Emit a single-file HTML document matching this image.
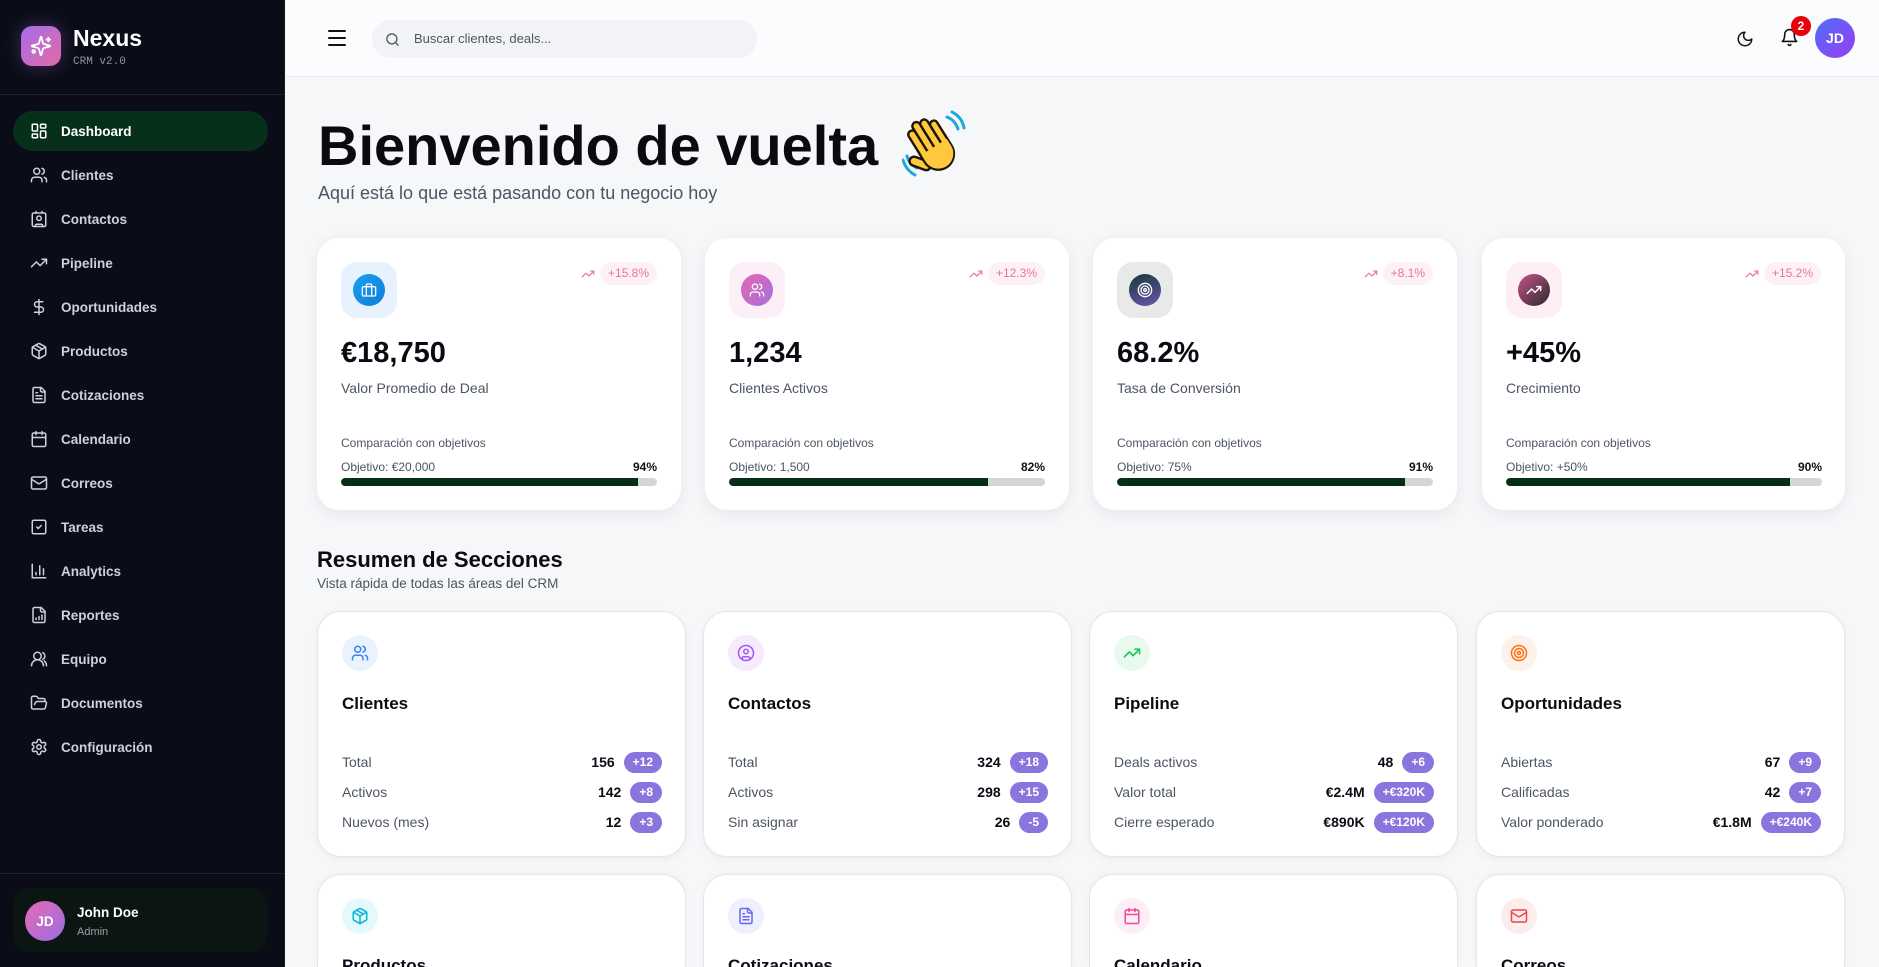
<!DOCTYPE html>
<html><head><meta charset="utf-8">
<style>
*{box-sizing:border-box;margin:0;padding:0}
html,body{width:1879px;height:967px;overflow:hidden;background:#f6f7f9;font-family:"Liberation Sans",Arial,sans-serif;color:#0b0b14}
#root{position:relative;width:1879px;height:967px;overflow:hidden;background:#f6f7f9}
.abs{position:absolute}
#side{position:absolute;left:0;top:0;width:285px;height:967px;background:#0a0d17;border-right:1px solid #161a26}
.logo{position:absolute;left:21px;top:26px;width:40px;height:40px;border-radius:11px;background:linear-gradient(135deg,#a56de9,#e36aa6);box-shadow:0 0 18px rgba(170,100,230,.35);display:flex;align-items:center;justify-content:center}
.nexus{position:absolute;left:73px;top:27px;font-size:23px;font-weight:bold;color:#fff;line-height:23px}
.crm{position:absolute;left:73px;top:56px;font-family:"Liberation Mono",monospace;font-size:11px;color:#8d93a0;line-height:12px}
.hr{position:absolute;left:0;width:285px;height:1px;background:#1d2130}
.nav{position:absolute;left:13px;top:111px;width:255px}
.ni{height:40px;margin-bottom:4px;border-radius:20px;display:flex;align-items:center;padding-left:17px;color:#cdd1da;font-size:13.5px;font-weight:bold}
.ni svg{width:18px;height:18px;margin-right:13px;flex:none}
.ni.act{background:#06301a;color:#fff}
.ubox{position:absolute;left:13px;top:888px;width:255px;height:64px;border-radius:16px;background:#0b1512}
.uav{position:absolute;left:12px;top:13px;width:40px;height:40px;border-radius:50%;background:linear-gradient(135deg,#e66ab5,#9a6ee0);color:#fff;font-weight:bold;font-size:13.5px;display:flex;align-items:center;justify-content:center}
#hdr{position:absolute;left:286px;top:0;width:1593px;height:77px;background:#fbfcfd;border-bottom:1px solid #e5e7eb}
.search{position:absolute;left:372px;top:20px;width:385px;height:38px;border-radius:19px;background:#f1f3f6}
.card{position:absolute;background:#fff;border-radius:22px;box-shadow:0 4px 16px rgba(20,20,40,.07)}
.ibox{position:absolute;left:24px;top:24px;width:56px;height:56px;border-radius:16px;display:flex;align-items:center;justify-content:center}
.icir{width:32px;height:32px;border-radius:50%;display:flex;align-items:center;justify-content:center}
.trend{position:absolute;right:24px;top:24px;display:flex;align-items:center}
.pill{height:23px;line-height:23px;padding:0 8px;border-radius:12px;background:#fdf1f6;color:#e8739f;font-size:12px;margin-left:5px}
.val{position:absolute;left:24px;top:101px;font-size:29px;line-height:29px;font-weight:bold;color:#0a0a12}
.lab{position:absolute;left:24px;top:143px;font-size:14px;line-height:14px;color:#4b5563}
.cmp{position:absolute;left:24px;top:199px;font-size:12px;line-height:12px;color:#4b5563}
.obj{position:absolute;left:24px;top:223px;width:316px;font-size:12px;line-height:12px;color:#4b5563;display:flex;justify-content:space-between}
.obj b{color:#111}
.bar{position:absolute;left:24px;top:240px;width:316px;height:8px;border-radius:4px;background:#d3d6d8;overflow:hidden}
.bar i{display:block;height:8px;background:#052e16;border-radius:4px 0 0 4px}
.sc{position:absolute;width:369px;height:246px;background:#fff;border-radius:24px;border:1px solid #e4e6ea;box-shadow:0 2px 8px rgba(20,20,40,.05)}
.sc.bot{height:93px;border-bottom:none;border-radius:24px 24px 0 0;overflow:hidden;box-shadow:0 -1px 6px rgba(20,20,40,.04)}
.sic{position:absolute;left:24px;top:23px;width:36px;height:36px;border-radius:50%;display:flex;align-items:center;justify-content:center}
.sic svg{width:18px;height:18px}
.st{position:absolute;left:24px;top:83px;font-size:17px;line-height:17px;font-weight:bold;color:#0b0b14}
.bot .st{top:88.5px;line-height:4px;height:4px}
.rows{position:absolute;left:24px;top:135px;width:320px}
.r{height:30px;display:flex;align-items:center;font-size:14px;color:#4b5563}
.r .sp{flex:1}
.r b{color:#0b0b14;font-size:14px;margin-right:9px}
.bd{height:21px;line-height:21px;padding:0 9px;border-radius:11px;background:#8a74de;color:#fff;font-size:12px;font-weight:bold}
</style></head><body>
<svg width="0" height="0" style="position:absolute">
<defs>
<symbol id="i-dash" viewBox="0 0 24 24"><rect width="7" height="9" x="3" y="3" rx="1"/><rect width="7" height="5" x="14" y="3" rx="1"/><rect width="7" height="9" x="14" y="12" rx="1"/><rect width="7" height="5" x="3" y="16" rx="1"/></symbol>
<symbol id="i-users" viewBox="0 0 24 24"><path d="M16 21v-2a4 4 0 0 0-4-4H6a4 4 0 0 0-4 4v2"/><circle cx="9" cy="7" r="4"/><path d="M22 21v-2a4 4 0 0 0-3-3.870"/><path d="M16 3.13a4 4 0 0 1 0 7.75"/></symbol>
<symbol id="i-contact" viewBox="0 0 24 24"><rect x="3" y="4" width="18" height="18" rx="2"/><circle cx="12" cy="11" r="3"/><path d="M7 22v-1a2 2 0 0 1 2-2h6a2 2 0 0 1 2 2v1"/><path d="M8 2v2M16 2v2"/></symbol>
<symbol id="i-trend" viewBox="0 0 24 24"><polyline points="22 7 13.5 15.5 8.5 10.5 2 17"/><polyline points="16 7 22 7 22 13"/></symbol>
<symbol id="i-dollar" viewBox="0 0 24 24"><line x1="12" x2="12" y1="2" y2="22"/><path d="M17 5H9.5a3.5 3.5 0 0 0 0 7h5a3.5 3.5 0 0 1 0 7H6"/></symbol>
<symbol id="i-pkg" viewBox="0 0 24 24"><path d="m7.5 4.27 9 5.15"/><path d="M21 8a2 2 0 0 0-1-1.73l-7-4a2 2 0 0 0-2 0l-7 4A2 2 0 0 0 3 8v8a2 2 0 0 0 1 1.73l7 4a2 2 0 0 0 2 0l7-4A2 2 0 0 0 21 16Z"/><path d="m3.3 7 8.7 5 8.7-5"/><path d="M12 22V12"/></symbol>
<symbol id="i-file" viewBox="0 0 24 24"><path d="M15 2H6a2 2 0 0 0-2 2v16a2 2 0 0 0 2 2h12a2 2 0 0 0 2-2V7Z"/><path d="M14 2v4a2 2 0 0 0 2 2h4"/><path d="M10 9H8M16 13H8M16 17H8"/></symbol>
<symbol id="i-cal" viewBox="0 0 24 24"><rect width="18" height="18" x="3" y="4" rx="2"/><path d="M16 2v4M8 2v4M3 10h18"/></symbol>
<symbol id="i-mail" viewBox="0 0 24 24"><rect width="20" height="16" x="2" y="4" rx="2"/><path d="m22 7-8.97 5.7a1.94 1.94 0 0 1-2.06 0L2 7"/></symbol>
<symbol id="i-check" viewBox="0 0 24 24"><rect x="3" y="3" width="18" height="18" rx="2"/><path d="m9 12 2 2 4-4"/></symbol>
<symbol id="i-bar" viewBox="0 0 24 24"><path d="M3 3v18h18"/><path d="M18 17V9M13 17V5M8 17v-3"/></symbol>
<symbol id="i-rep" viewBox="0 0 24 24"><path d="M15 2H6a2 2 0 0 0-2 2v16a2 2 0 0 0 2 2h12a2 2 0 0 0 2-2V7Z"/><path d="M14 2v4a2 2 0 0 0 2 2h4"/><path d="M8 18v-2M12 18v-4M16 18v-6"/></symbol>
<symbol id="i-team" viewBox="0 0 24 24"><circle cx="10" cy="8" r="5"/><path d="M2 21a8 8 0 0 1 16 0"/><path d="M17 3.5a5 5 0 0 1 0 9M22 21a8 8 0 0 0-3-6.5"/></symbol>
<symbol id="i-folder" viewBox="0 0 24 24"><path d="m6 14 1.5-2.9A2 2 0 0 1 9.24 10H20a2 2 0 0 1 1.94 2.5l-1.54 6a2 2 0 0 1-1.95 1.5H4a2 2 0 0 1-2-2V5a2 2 0 0 1 2-2h3.9a2 2 0 0 1 1.69.9l.81 1.2a2 2 0 0 0 1.67.9H18a2 2 0 0 1 2 2v2"/></symbol>
<symbol id="i-gear" viewBox="0 0 24 24"><path d="M12.22 2h-.44a2 2 0 0 0-2 2v.18a2 2 0 0 1-1 1.73l-.43.25a2 2 0 0 1-2 0l-.15-.08a2 2 0 0 0-2.73.73l-.22.38a2 2 0 0 0 .73 2.73l.15.1a2 2 0 0 1 1 1.72v.51a2 2 0 0 1-1 1.74l-.15.09a2 2 0 0 0-.73 2.73l.22.38a2 2 0 0 0 2.73.73l.15-.08a2 2 0 0 1 2 0l.43.25a2 2 0 0 1 1 1.73V20a2 2 0 0 0 2 2h.44a2 2 0 0 0 2-2v-.18a2 2 0 0 1 1-1.73l.43-.25a2 2 0 0 1 2 0l.15.08a2 2 0 0 0 2.73-.73l.22-.39a2 2 0 0 0-.73-2.73l-.15-.08a2 2 0 0 1-1-1.74v-.5a2 2 0 0 1 1-1.74l.15-.09a2 2 0 0 0 .73-2.73l-.22-.38a2 2 0 0 0-2.73-.73l-.15.08a2 2 0 0 1-2 0l-.43-.25a2 2 0 0 1-1-1.73V4a2 2 0 0 0-2-2z"/><circle cx="12" cy="12" r="3"/></symbol>
<symbol id="i-target" viewBox="0 0 24 24"><circle cx="12" cy="12" r="10"/><circle cx="12" cy="12" r="6"/><circle cx="12" cy="12" r="2"/></symbol>
<symbol id="i-brief" viewBox="0 0 24 24"><rect width="20" height="14" x="2" y="7" rx="2"/><path d="M16 21V5a2 2 0 0 0-2-2h-4a2 2 0 0 0-2 2v16"/></symbol>
<symbol id="i-ucirc" viewBox="0 0 24 24"><circle cx="12" cy="12" r="10"/><circle cx="12" cy="10" r="3"/><path d="M7 20.662V19a2 2 0 0 1 2-2h6a2 2 0 0 1 2 2v1.662"/></symbol>
</defs></svg>

<div id="root">
<!-- SIDEBAR -->
<div id="side">
  <div class="logo"><svg width="22" height="22" viewBox="0 0 24 24" fill="none" stroke="#fff" stroke-width="2" stroke-linecap="round" stroke-linejoin="round"><path d="M9.937 15.5A2 2 0 0 0 8.5 14.063l-6.135-1.582a.5.5 0 0 1 0-.962L8.5 9.936A2 2 0 0 0 9.937 8.5l1.582-6.135a.5.5 0 0 1 .963 0L14.063 8.5A2 2 0 0 0 15.5 9.937l6.135 1.581a.5.5 0 0 1 0 .964L15.5 14.063a2 2 0 0 0-1.437 1.437l-1.582 6.135a.5.5 0 0 1-.963 0z"/><path d="M20 3v4M22 5h-4"/><circle cx="4" cy="18" r="1.5"/></svg></div>
  <div class="nexus">Nexus</div>
  <div class="crm">CRM v2.0</div>
  <div class="hr" style="top:94px"></div>
  <div class="nav">
    <div class="ni act"><svg fill="none" stroke="#fff" stroke-width="2"><use href="#i-dash"/></svg>Dashboard</div>
    <div class="ni"><svg fill="none" stroke="#cdd1da" stroke-width="2" stroke-linecap="round"><use href="#i-users"/></svg>Clientes</div>
    <div class="ni"><svg fill="none" stroke="#cdd1da" stroke-width="2" stroke-linecap="round"><use href="#i-contact"/></svg>Contactos</div>
    <div class="ni"><svg fill="none" stroke="#cdd1da" stroke-width="2" stroke-linecap="round" stroke-linejoin="round"><use href="#i-trend"/></svg>Pipeline</div>
    <div class="ni"><svg fill="none" stroke="#cdd1da" stroke-width="2" stroke-linecap="round"><use href="#i-dollar"/></svg>Oportunidades</div>
    <div class="ni"><svg fill="none" stroke="#cdd1da" stroke-width="2" stroke-linecap="round" stroke-linejoin="round"><use href="#i-pkg"/></svg>Productos</div>
    <div class="ni"><svg fill="none" stroke="#cdd1da" stroke-width="2" stroke-linecap="round" stroke-linejoin="round"><use href="#i-file"/></svg>Cotizaciones</div>
    <div class="ni"><svg fill="none" stroke="#cdd1da" stroke-width="2" stroke-linecap="round"><use href="#i-cal"/></svg>Calendario</div>
    <div class="ni"><svg fill="none" stroke="#cdd1da" stroke-width="2" stroke-linecap="round"><use href="#i-mail"/></svg>Correos</div>
    <div class="ni"><svg fill="none" stroke="#cdd1da" stroke-width="2" stroke-linecap="round" stroke-linejoin="round"><use href="#i-check"/></svg>Tareas</div>
    <div class="ni"><svg fill="none" stroke="#cdd1da" stroke-width="2" stroke-linecap="round"><use href="#i-bar"/></svg>Analytics</div>
    <div class="ni"><svg fill="none" stroke="#cdd1da" stroke-width="2" stroke-linecap="round" stroke-linejoin="round"><use href="#i-rep"/></svg>Reportes</div>
    <div class="ni"><svg fill="none" stroke="#cdd1da" stroke-width="2" stroke-linecap="round"><use href="#i-team"/></svg>Equipo</div>
    <div class="ni"><svg fill="none" stroke="#cdd1da" stroke-width="2" stroke-linecap="round" stroke-linejoin="round"><use href="#i-folder"/></svg>Documentos</div>
    <div class="ni"><svg fill="none" stroke="#cdd1da" stroke-width="2" stroke-linecap="round"><use href="#i-gear"/></svg>Configuración</div>
  </div>
  <div class="hr" style="top:873px"></div>
  <div class="ubox">
    <div class="uav">JD</div>
    <div class="abs" style="left:64px;top:18px;font-size:13.5px;line-height:14px;font-weight:bold;color:#fff">John Doe</div>
    <div class="abs" style="left:64px;top:38px;font-size:11px;line-height:12px;color:#9aa0ab">Admin</div>
  </div>
</div>

<!-- HEADER -->
<div id="hdr"></div>
<svg class="abs" style="left:327px;top:28px" width="20" height="20" viewBox="0 0 20 20" stroke="#111" stroke-width="2" stroke-linecap="round"><path d="M2 3h16M2 10h16M2 17h16"/></svg>
<div class="search">
  <svg class="abs" style="left:13px;top:12px" width="15" height="15" viewBox="0 0 24 24" fill="none" stroke="#555b66" stroke-width="2.2" stroke-linecap="round"><circle cx="11" cy="11" r="8"/><path d="m21 21-4.3-4.3"/></svg>
  <div class="abs" style="left:42px;top:12px;font-size:13px;line-height:14px;color:#50565f">Buscar clientes, deals...</div>
</div>
<svg class="abs" style="left:1736px;top:30px" width="18" height="18" viewBox="0 0 24 24" fill="none" stroke="#111" stroke-width="2" stroke-linecap="round" stroke-linejoin="round"><path d="M12 3a6 6 0 0 0 9 9 9 9 0 1 1-9-9Z"/></svg>
<svg class="abs" style="left:1780px;top:28px" width="19" height="19" viewBox="0 0 24 24" fill="none" stroke="#111" stroke-width="2" stroke-linecap="round" stroke-linejoin="round"><path d="M6 8a6 6 0 0 1 12 0c0 7 3 9 3 9H3s3-2 3-9"/><path d="M10.3 21a1.94 1.94 0 0 0 3.4 0"/></svg>
<div class="abs" style="left:1791px;top:16px;width:20px;height:20px;border-radius:50%;background:#e7000b;color:#fff;font-size:12px;font-weight:bold;display:flex;align-items:center;justify-content:center">2</div>
<div class="abs" style="left:1815px;top:18px;width:40px;height:40px;border-radius:50%;background:linear-gradient(135deg,#4c70f8,#9a3cf4);color:#fff;font-size:14px;font-weight:bold;display:flex;align-items:center;justify-content:center">JD</div>

<!-- TITLE -->
<div class="abs" style="left:318px;top:118px;font-size:56px;line-height:56px;font-weight:bold;color:#0a0a10;white-space:nowrap">Bienvenido de vuelta</div>
<svg class="abs" style="left:902px;top:110px" width="64" height="67" viewBox="0 0 64 67">
  <g fill="none" stroke="#1ea7e1" stroke-width="3" stroke-linecap="round"><path d="M45 7q8 3 11 12"/><path d="M50 2q10 5 12 16"/><path d="M5 46q2 8 10 12"/><path d="M1 50q3 10 12 15"/></g>
  <g transform="rotate(-32 34 38)" fill="#ffc83d" stroke="#1c1406" stroke-width="2.4" stroke-linejoin="round">
    <rect x="8" y="32" width="9" height="22" rx="4.5" transform="rotate(-38 12 43)"/>
    <path d="M17 32h31.5v12a16 16 0 0 1-16 16a16 16 0 0 1-15.5-16z"/>
    <rect x="17" y="10" width="8" height="32" rx="4"/>
    <rect x="25" y="5" width="8" height="34" rx="4"/>
    <rect x="33" y="7" width="8" height="32" rx="4"/>
    <rect x="41" y="13" width="7.5" height="27" rx="3.75"/>
    <path d="M18 36h30v8a15 15 0 0 1-15 15a15 15 0 0 1-15-15z" stroke="none"/>
  </g>
</svg>
<div class="abs" style="left:318px;top:184px;font-size:18px;line-height:18px;color:#4b5563;white-space:nowrap">Aquí está lo que está pasando con tu negocio hoy</div>

<!-- KPI CARDS -->
<div class="card" style="left:317px;top:238px;width:364px;height:272px">
  <div class="ibox" style="background:#e8f2fe"><div class="icir" style="background:linear-gradient(135deg,#1aa0f2,#0b7ed6)"><svg width="16" height="16" fill="none" stroke="#fff" stroke-width="2"><use href="#i-brief"/></svg></div></div>
  <div class="trend"><svg width="14" height="14" fill="none" stroke="#e8739f" stroke-width="2" stroke-linecap="round" stroke-linejoin="round"><use href="#i-trend"/></svg><span class="pill">+15.8%</span></div>
  <div class="val">€18,750</div>
  <div class="lab">Valor Promedio de Deal</div>
  <div class="cmp">Comparación con objetivos</div>
  <div class="obj"><span>Objetivo: €20,000</span><b>94%</b></div>
  <div class="bar"><i style="width:94%"></i></div>
</div>
<div class="card" style="left:705px;top:238px;width:364px;height:272px">
  <div class="ibox" style="background:#fdeff7"><div class="icir" style="background:linear-gradient(135deg,#e466b0,#a570dc)"><svg width="16" height="16" fill="none" stroke="#fff" stroke-width="2" stroke-linecap="round"><use href="#i-users"/></svg></div></div>
  <div class="trend"><svg width="14" height="14" fill="none" stroke="#e8739f" stroke-width="2" stroke-linecap="round" stroke-linejoin="round"><use href="#i-trend"/></svg><span class="pill">+12.3%</span></div>
  <div class="val">1,234</div>
  <div class="lab">Clientes Activos</div>
  <div class="cmp">Comparación con objetivos</div>
  <div class="obj"><span>Objetivo: 1,500</span><b>82%</b></div>
  <div class="bar"><i style="width:82%"></i></div>
</div>
<div class="card" style="left:1093px;top:238px;width:364px;height:272px">
  <div class="ibox" style="background:#e8eaea"><div class="icir" style="background:linear-gradient(160deg,#163a36,#6a55b2)"><svg width="16" height="16" fill="none" stroke="#fff" stroke-width="2"><use href="#i-target"/></svg></div></div>
  <div class="trend"><svg width="14" height="14" fill="none" stroke="#e8739f" stroke-width="2" stroke-linecap="round" stroke-linejoin="round"><use href="#i-trend"/></svg><span class="pill">+8.1%</span></div>
  <div class="val">68.2%</div>
  <div class="lab">Tasa de Conversión</div>
  <div class="cmp">Comparación con objetivos</div>
  <div class="obj"><span>Objetivo: 75%</span><b>91%</b></div>
  <div class="bar"><i style="width:91%"></i></div>
</div>
<div class="card" style="left:1482px;top:238px;width:363px;height:272px">
  <div class="ibox" style="background:#fdeff4"><div class="icir" style="background:linear-gradient(135deg,#c9528a,#2a2a2a)"><svg width="16" height="16" fill="none" stroke="#fff" stroke-width="2.2" stroke-linecap="round" stroke-linejoin="round"><use href="#i-trend"/></svg></div></div>
  <div class="trend"><svg width="14" height="14" fill="none" stroke="#e8739f" stroke-width="2" stroke-linecap="round" stroke-linejoin="round"><use href="#i-trend"/></svg><span class="pill">+15.2%</span></div>
  <div class="val">+45%</div>
  <div class="lab">Crecimiento</div>
  <div class="cmp">Comparación con objetivos</div>
  <div class="obj"><span>Objetivo: +50%</span><b>90%</b></div>
  <div class="bar"><i style="width:90%"></i></div>
</div>

<!-- SECTION -->
<div class="abs" style="left:317px;top:549px;font-size:22px;line-height:22px;font-weight:bold;color:#0a0a10">Resumen de Secciones</div>
<div class="abs" style="left:317px;top:577px;font-size:13.5px;line-height:14px;color:#4b5563">Vista rápida de todas las áreas del CRM</div>

<div class="sc" style="left:317px;top:611px">
  <div class="sic" style="background:#eaf2fd"><svg fill="none" stroke="#3b82f6" stroke-width="2" stroke-linecap="round"><use href="#i-users"/></svg></div>
  <div class="st">Clientes</div>
  <div class="rows">
    <div class="r">Total<span class="sp"></span><b>156</b><span class="bd">+12</span></div>
    <div class="r">Activos<span class="sp"></span><b>142</b><span class="bd">+8</span></div>
    <div class="r">Nuevos (mes)<span class="sp"></span><b>12</b><span class="bd">+3</span></div>
  </div>
</div>
<div class="sc" style="left:703px;top:611px">
  <div class="sic" style="background:#f5ebfd"><svg fill="none" stroke="#a855f7" stroke-width="2" stroke-linecap="round"><use href="#i-ucirc"/></svg></div>
  <div class="st">Contactos</div>
  <div class="rows">
    <div class="r">Total<span class="sp"></span><b>324</b><span class="bd">+18</span></div>
    <div class="r">Activos<span class="sp"></span><b>298</b><span class="bd">+15</span></div>
    <div class="r">Sin asignar<span class="sp"></span><b>26</b><span class="bd">-5</span></div>
  </div>
</div>
<div class="sc" style="left:1089px;top:611px">
  <div class="sic" style="background:#e8f9ee"><svg fill="none" stroke="#22c55e" stroke-width="2.2" stroke-linecap="round" stroke-linejoin="round"><use href="#i-trend"/></svg></div>
  <div class="st">Pipeline</div>
  <div class="rows">
    <div class="r">Deals activos<span class="sp"></span><b>48</b><span class="bd">+6</span></div>
    <div class="r">Valor total<span class="sp"></span><b>€2.4M</b><span class="bd">+€320K</span></div>
    <div class="r">Cierre esperado<span class="sp"></span><b>€890K</b><span class="bd">+€120K</span></div>
  </div>
</div>
<div class="sc" style="left:1476px;top:611px">
  <div class="sic" style="background:#fdf1ea"><svg fill="none" stroke="#f97316" stroke-width="2"><use href="#i-target"/></svg></div>
  <div class="st">Oportunidades</div>
  <div class="rows">
    <div class="r">Abiertas<span class="sp"></span><b>67</b><span class="bd">+9</span></div>
    <div class="r">Calificadas<span class="sp"></span><b>42</b><span class="bd">+7</span></div>
    <div class="r">Valor ponderado<span class="sp"></span><b>€1.8M</b><span class="bd">+€240K</span></div>
  </div>
</div>

<div class="sc bot" style="left:317px;top:874px">
  <div class="sic" style="background:#e4f9fb"><svg fill="none" stroke="#06b6d4" stroke-width="2" stroke-linecap="round" stroke-linejoin="round"><use href="#i-pkg"/></svg></div>
  <div class="st">Productos</div>
</div>
<div class="sc bot" style="left:703px;top:874px">
  <div class="sic" style="background:#eef0fd"><svg fill="none" stroke="#6366f1" stroke-width="2" stroke-linecap="round" stroke-linejoin="round"><use href="#i-file"/></svg></div>
  <div class="st">Cotizaciones</div>
</div>
<div class="sc bot" style="left:1089px;top:874px">
  <div class="sic" style="background:#fdeef5"><svg fill="none" stroke="#ec4899" stroke-width="2" stroke-linecap="round"><use href="#i-cal"/></svg></div>
  <div class="st">Calendario</div>
</div>
<div class="sc bot" style="left:1476px;top:874px">
  <div class="sic" style="background:#fdecec"><svg fill="none" stroke="#ef4444" stroke-width="2" stroke-linecap="round"><use href="#i-mail"/></svg></div>
  <div class="st">Correos</div>
</div>
</div>
</body></html>
